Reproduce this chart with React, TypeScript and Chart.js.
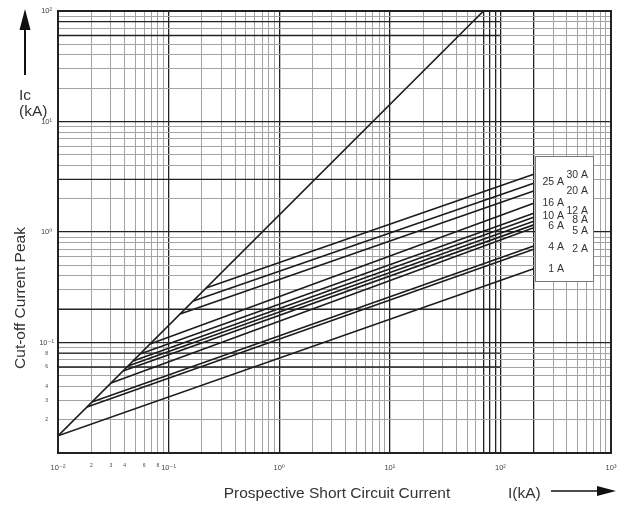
import React, { useEffect, useRef } from 'react';
import { Chart, registerables } from 'chart.js';

Chart.register(...registerables);

// ---- data ----
const RATINGS = ['1 A', '2 A', '4 A', '5 A', '6 A', '8 A', '10 A', '12 A', '16 A', '20 A', '25 A', '30 A'];
const START_I = [0.01, 0.0183, 0.0203, 0.0302, 0.0387, 0.043, 0.0477, 0.0552, 0.068, 0.127, 0.167, 0.218];
const START_IC = [0.0143, 0.0261, 0.029, 0.043, 0.0552, 0.0613, 0.068, 0.0787, 0.097, 0.181, 0.238, 0.311];
const END_I = 200;
const END_IC = [0.466, 0.697, 0.747, 1.09, 1.16, 1.25, 1.36, 1.48, 1.82, 2.35, 2.76, 3.33];
const LABEL_COLUMN = ['left', 'right', 'left', 'right', 'left', 'right', 'left', 'right', 'left', 'right', 'left', 'right'];

// unlimited peak current line
const DIAG_I = [0.01, 70.4];
const DIAG_IC = [0.0143, 100];

// heavy horizontal reference levels (kA) drawn from I=0.01 to I=100
const REF_H_IC = [80, 60, 3, 0.2, 0.08, 0.06];
const REF_H_FROM = 0.01;
const REF_H_TO = 100;

// axes
const X_MIN = 0.01, X_MAX = 1000, Y_MIN = 0.01, Y_MAX = 100;
const X_DECADES = [0.01, 0.1, 1, 10, 100];
const Y_DECADES = [0.01, 0.1, 1, 10];
const MULTS = [1, 2, 3, 4, 5, 6, 7, 8, 9];
const X_DARK = [0.01, 0.1, 1, 10, 70, 80, 90, 100, 200, 1000];
const Y_DARK = [0.01, 0.1, 1, 10, 100];
const X_LABEL_VALUES = [0.01, 0.02, 0.03, 0.04, 0.06, 0.08, 0.1, 1, 10, 100, 1000];
const X_LABEL_TEXTS = ['10⁻²', '2', '3', '4', '6', '8', '10⁻¹', '10⁰', '10¹', '10²', '10³'];
const Y_LABEL_VALUES = [0.02, 0.03, 0.04, 0.06, 0.08, 0.1, 1, 10, 100];
const Y_LABEL_TEXTS = ['2', '3', '4', '6', '8', '10⁻¹', '10⁰', '10¹', '10²'];

const X_GRID = X_DECADES.flatMap((d) => MULTS.map((m) => +(d * m).toPrecision(3))).concat([X_MAX]);
const Y_GRID = Y_DECADES.flatMap((d) => MULTS.map((m) => +(d * m).toPrecision(3))).concat([Y_MAX]);

// label placement nudges (px) inside the rating box, to avoid overlaps
const LABEL_NUDGE = [0, 0, 1, 3, 1.5, -1, -1.5, -2.5, -0.5, 0.5, -1, 0.5];

const FONT = '"Liberation Sans", Arial, "DejaVu Sans", sans-serif';
const DARK = '#222222';
const GREY = '#a3a3a3';
const LINE = '#1c1c1c';

const same = (a: number, b: number) => Math.abs(Math.log10(a) - Math.log10(b)) < 1e-6;
const inList = (v: number, list: number[]) => list.some((t) => same(v, t));
const labelFor = (v: number, vals: number[], texts: string[]) => {
  const i = vals.findIndex((t) => same(v, t));
  return i >= 0 ? texts[i] : '';
};
const isDecade = (v: number) => Math.abs(Math.log10(v) - Math.round(Math.log10(v))) < 1e-6;

const overlay = {
  id: 'overlay',
  afterDatasetsDraw(chart: any) {
    const { ctx, chartArea: a, scales } = chart;
    const x = scales.x, y = scales.y;
    ctx.save();
    // frame
    ctx.strokeStyle = DARK;
    ctx.lineWidth = 2;
    ctx.strokeRect(a.left, a.top, a.right - a.left, a.bottom - a.top);

    // rating label box
    const bx = Math.round(x.getPixelForValue(END_I)) + 1;
    ctx.fillStyle = '#ffffff';
    ctx.fillRect(bx, 156, 59, 126);
    ctx.strokeStyle = '#777777';
    ctx.lineWidth = 1;
    ctx.strokeRect(bx + 0.5, 156.5, 58, 125);
    ctx.fillStyle = '#333333';
    ctx.font = `10.5px ${FONT}`;
    ctx.textBaseline = 'middle';
    ctx.textAlign = 'right';
    RATINGS.forEach((r, i) => {
      const py = y.getPixelForValue(END_IC[i]) + LABEL_NUDGE[i];
      const px = LABEL_COLUMN[i] === 'left' ? bx + 29 : bx + 53;
      ctx.fillText(r, px, py);
    });

    // axis titles
    ctx.fillStyle = '#333333';
    ctx.textBaseline = 'alphabetic';
    ctx.font = `15.5px ${FONT}`;
    ctx.save();
    ctx.translate(25, 298);
    ctx.rotate(-Math.PI / 2);
    ctx.textAlign = 'center';
    ctx.fillText('Cut-off Current Peak', 0, 0);
    ctx.restore();

    ctx.textAlign = 'center';
    ctx.fillText('Prospective Short Circuit Current', 337, 497.5);
    ctx.textAlign = 'left';
    ctx.fillText('I(kA)', 508, 497.5);
    ctx.fillText('Ic', 19, 100);
    ctx.fillText('(kA)', 19, 116);

    // arrows
    ctx.strokeStyle = '#111111';
    ctx.fillStyle = '#111111';
    ctx.lineWidth = 2;
    ctx.beginPath();
    ctx.moveTo(25, 75);
    ctx.lineTo(25, 26);
    ctx.stroke();
    ctx.beginPath();
    ctx.moveTo(25, 9);
    ctx.lineTo(30.5, 30);
    ctx.lineTo(19.5, 30);
    ctx.closePath();
    ctx.fill();

    ctx.lineWidth = 1.6;
    ctx.beginPath();
    ctx.moveTo(551, 491);
    ctx.lineTo(602, 491);
    ctx.stroke();
    ctx.beginPath();
    ctx.moveTo(616, 491);
    ctx.lineTo(597, 486);
    ctx.lineTo(597, 496);
    ctx.closePath();
    ctx.fill();
    ctx.restore();
  },
};

export default function App() {
  const ref = useRef<HTMLCanvasElement>(null);
  useEffect(() => {
    if (!ref.current) return;
    const datasets: any[] = [];
    REF_H_IC.forEach((v) => {
      datasets.push({
        data: [{ x: REF_H_FROM, y: v }, { x: REF_H_TO, y: v }],
        borderColor: DARK,
        borderWidth: 1.3,
      });
    });
    datasets.push({
      data: [{ x: DIAG_I[0], y: DIAG_IC[0] }, { x: DIAG_I[1], y: DIAG_IC[1] }],
      borderColor: LINE,
      borderWidth: 1.6,
    });
    RATINGS.forEach((r, i) => {
      datasets.push({
        label: r,
        data: [{ x: START_I[i], y: START_IC[i] }, { x: END_I, y: END_IC[i] }],
        borderColor: LINE,
        borderWidth: 1.6,
      });
    });
    datasets.forEach((d) => {
      d.pointRadius = 0;
      d.fill = false;
      d.tension = 0;
    });

    const chart = new Chart(ref.current, {
      type: 'line',
      data: { datasets },
      plugins: [overlay],
      options: {
        animation: false,
        responsive: false,
        events: [],
        layout: { padding: { top: 11, right: 6, left: 0, bottom: 0 } },
        plugins: { legend: { display: false }, tooltip: { enabled: false }, title: { display: false } },
        scales: {
          x: {
            type: 'logarithmic',
            min: X_MIN,
            max: X_MAX,
            afterFit: (s: any) => { s.height = 53; s.paddingLeft = 0; s.paddingRight = 0; },
            afterBuildTicks: (s: any) => { s.ticks = X_GRID.map((v) => ({ value: v })); },
            border: { display: false },
            grid: {
              drawTicks: false,
              color: (c: any) => (c.tick && inList(c.tick.value, X_DARK) ? DARK : GREY),
              lineWidth: (c: any) => (c.tick && inList(c.tick.value, X_DARK) ? 1.3 : 1),
            },
            ticks: {
              autoSkip: false,
              maxRotation: 0,
              minRotation: 0,
              padding: 10,
              color: '#444444',
              font: (c: any) => ({ family: FONT, size: c.tick && isDecade(c.tick.value) ? 7.5 : 5 }),
              callback: (v: any) => labelFor(Number(v), X_LABEL_VALUES, X_LABEL_TEXTS),
            },
          },
          y: {
            type: 'logarithmic',
            min: Y_MIN,
            max: Y_MAX,
            afterFit: (s: any) => { s.width = 58; s.paddingTop = 0; s.paddingBottom = 0; },
            afterBuildTicks: (s: any) => { s.ticks = Y_GRID.map((v) => ({ value: v })); },
            border: { display: false },
            grid: {
              drawTicks: false,
              color: (c: any) => (c.tick && inList(c.tick.value, Y_DARK) ? DARK : GREY),
              lineWidth: (c: any) => (c.tick && inList(c.tick.value, Y_DARK) ? 1.3 : 1),
            },
            ticks: {
              autoSkip: false,
              padding: 4,
              crossAlign: 'center',
              color: '#444444',
              font: (c: any) => ({ family: FONT, size: c.tick && isDecade(c.tick.value) ? 7.5 : 5 }),
              callback: (v: any) => labelFor(Number(v), Y_LABEL_VALUES, Y_LABEL_TEXTS),
            },
          },
        },
      } as any,
    });
    return () => chart.destroy();
  }, []);

  return (
    <div style={{ position: 'absolute', left: 0, top: 0, width: 617, height: 506, background: '#ffffff' }}>
      <canvas ref={ref} width={617} height={506} style={{ display: 'block', width: 617, height: 506 }} />
    </div>
  );
}
